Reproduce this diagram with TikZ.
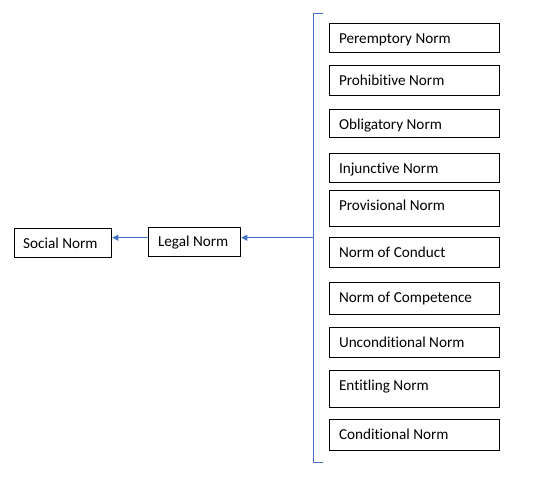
\documentclass[tikz,border=0pt]{standalone}
\usepackage{fontspec}
\setmainfont[Ligatures=NoCommon]{Carlito}
\usetikzlibrary{arrows.meta}
\definecolor{linkblue}{HTML}{4472C4}
\tikzset{
  boxst/.style={draw=black, line width=1pt, rectangle, inner sep=0pt, anchor=north west},
  txt/.style={anchor=base west, inner sep=0pt, font=\fontsize{15.2}{17}\selectfont},
  link/.style={draw=linkblue, line width=0.9pt, -{Triangle[length=6pt,width=6pt]}},
  brack/.style={draw=linkblue, line width=1pt}
}
\begin{document}
\begin{tikzpicture}[x=1pt,y=-1pt]
\useasboundingbox (0,0) rectangle (554,480);
% right column boxes: name, top, bottom, label
\foreach \n/\t/\b/\l in {
  b1/23.3/52.3/Peremptory Norm,
  b2/65.3/95.3/Prohibitive Norm,
  b3/109/137.3/Obligatory Norm,
  b4/152.5/182.3/Injunctive Norm,
  b5/190/226.3/Provisional Norm,
  b6/237.3/267.3/Norm of Conduct,
  b7/282.3/314.3/Norm of Competence,
  b8/327.3/357.3/Unconditional Norm,
  b9/370.3/407.3/Entitling Norm,
  b10/419.3/450.3/Conditional Norm}{
  \pgfmathsetmacro{\h}{\b-\t}
  \node[boxst, minimum width=169.3pt, minimum height=\h pt] (\n) at (329.3,\t) {};
  \node[txt] (\n t) at ([shift={(9.5,20.5)}]\n.north west) {\l};
}
% left boxes
\node[boxst, minimum width=97.3pt, minimum height=28.4pt] (social) at (14,228.3) {};
\node[txt] (socialt) at ([shift={(9,20.5)}]social.north west) {Social Norm};
\node[boxst, minimum width=92pt, minimum height=29.6pt] (legal) at (148.3,226.7) {};
\node[txt] (legalt) at ([shift={(9.5,20)}]legal.north west) {Legal Norm};
% bracket
\coordinate (btop) at (313,13.3);
\coordinate (bbot) at (313,462);
\coordinate (m) at (313,237.7);
\draw[brack] ([xshift=10pt]btop) -- (btop) -- (bbot) -- ([xshift=10pt]bbot);
% arrows
\draw[link] (m) -- (m -| legal.east);
\draw[link] (legal.west |- m) -- (m -| social.east);
\end{tikzpicture}
\end{document}
